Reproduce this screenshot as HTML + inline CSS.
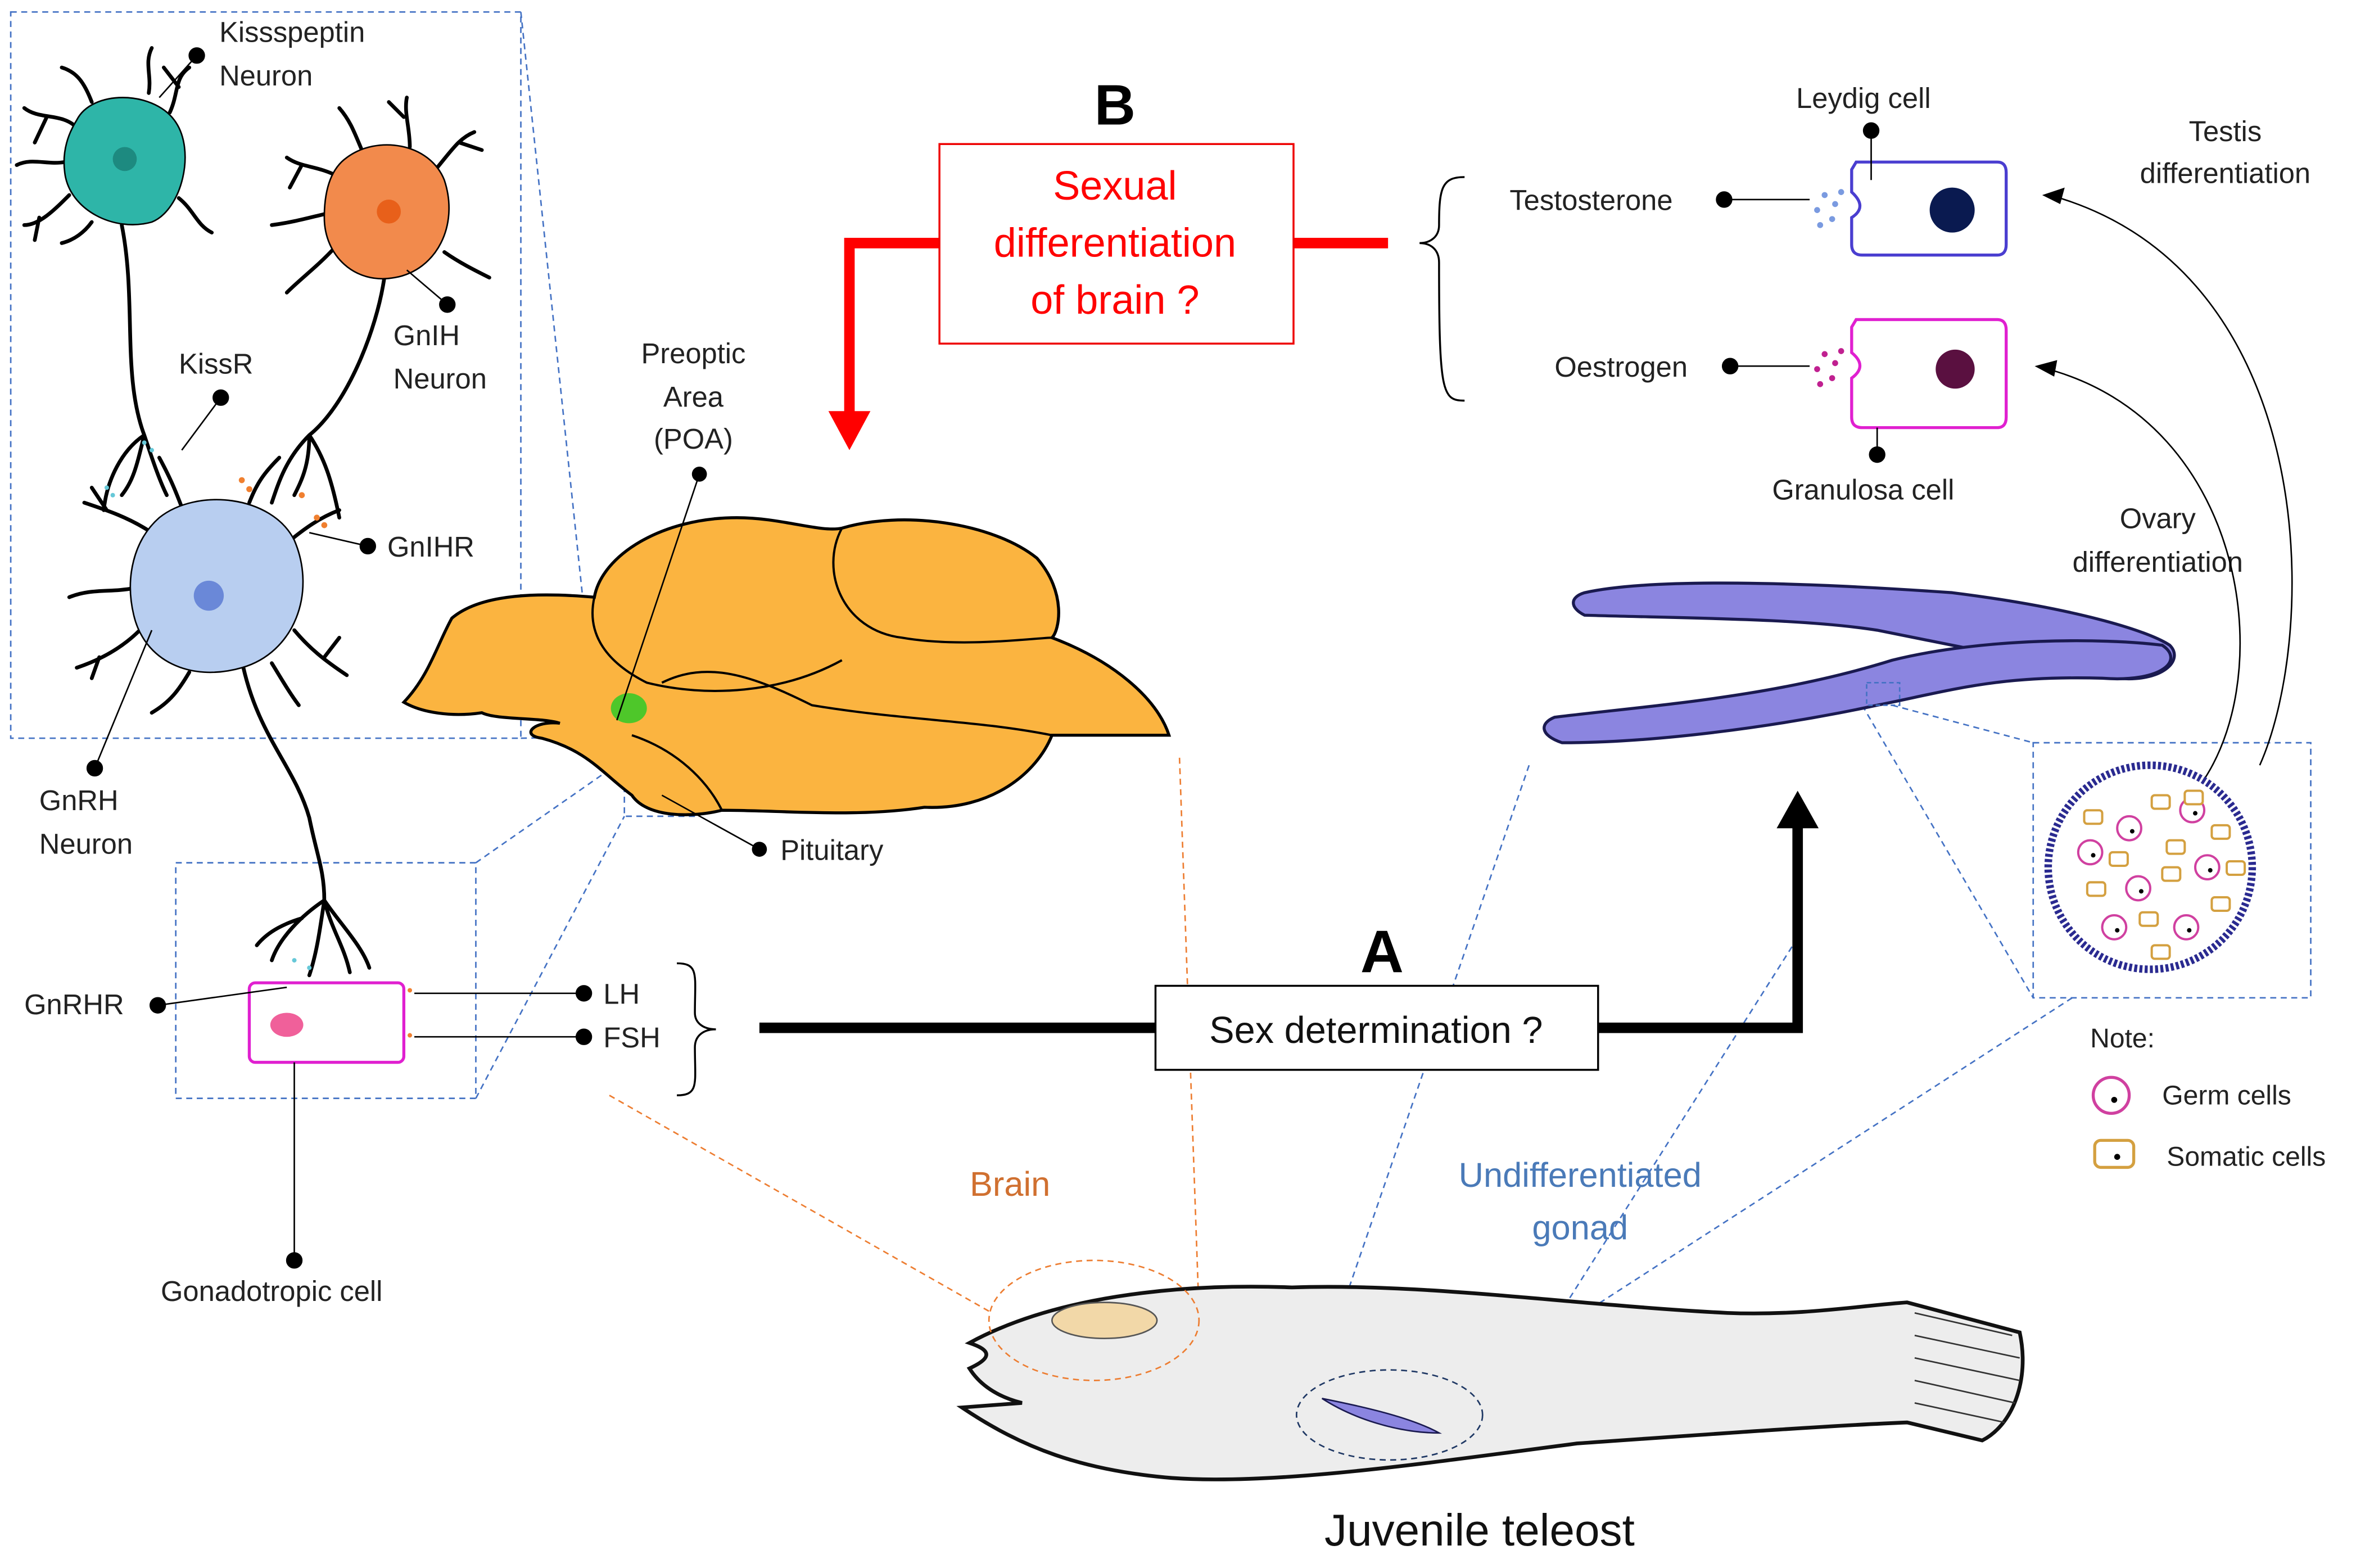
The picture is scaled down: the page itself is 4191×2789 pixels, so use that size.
<!DOCTYPE html>
<html><head><meta charset="utf-8"><style>
html,body{margin:0;padding:0;background:#fff;}
svg{display:block;}
text{font-family:"Liberation Sans",sans-serif;}
</style></head><body>
<svg width="4191" height="2789" viewBox="0 0 1568 1045" xmlns="http://www.w3.org/2000/svg">
<rect width="1568" height="1045" fill="#fff"/>
<g fill="none" stroke="#4472c4" stroke-width="1" stroke-dasharray="4,3">
<rect x="6" y="8" width="340" height="484"/>
<rect x="116" y="575" width="200" height="157"/>
<rect x="1354" y="495" width="185" height="170"/>
<rect x="393" y="453" width="52" height="38"/>
<rect x="415" y="506" width="50" height="38"/>
<line x1="346" y1="8" x2="393" y2="453"/>
<line x1="346" y1="492" x2="393" y2="491"/>
<line x1="316" y1="575" x2="415" y2="506"/>
<line x1="316" y1="732" x2="415" y2="544"/>
<line x1="1018" y1="510" x2="875" y2="925"/>
<line x1="1197" y1="625" x2="985" y2="960"/>
<line x1="1260" y1="470" x2="1354" y2="495"/>
<line x1="1240" y1="470" x2="1354" y2="665"/>
<line x1="1380" y1="665" x2="985" y2="920"/>
</g>
<g fill="none" stroke="#ed7d31" stroke-width="1" stroke-dasharray="4,3">
<line x1="405" y1="730" x2="660" y2="875"/>
<line x1="785" y1="505" x2="798" y2="875"/>
</g>
<!-- brain -->
<path d="M268,468 C285,450 290,430 300,412 C320,395 360,395 395,398 C400,370 440,345 490,345 C520,345 545,355 560,352 C600,340 660,348 690,372 C710,395 705,420 700,425 C740,440 770,465 778,490 L700,490 C690,515 660,540 615,538 C570,545 520,540 480,540 C460,545 430,545 420,530 C400,515 390,500 360,492 C345,490 355,480 372,482 C360,478 330,480 320,475 C300,478 280,475 268,468 Z" fill="#fbb440" stroke="#000" stroke-width="2"/>
<g fill="none" stroke="#000" stroke-width="1.5">
<path d="M395,398 C390,420 400,440 430,455 C470,465 520,462 560,440"/>
<path d="M560,352 C545,380 560,420 600,425 C640,432 690,425 700,425"/>
<path d="M440,455 C470,440 500,450 540,470 C600,480 650,480 700,490"/>
<path d="M420,490 C450,500 470,520 480,540"/>
</g>
<ellipse cx="418" cy="472" rx="12" ry="10" fill="#4ec72a"/>
<line x1="410" y1="480" x2="465" y2="316" stroke="#000" stroke-width="1"/><circle cx="465" cy="316" r="5" fill="#000"/>
<line x1="440" y1="530" x2="505" y2="566" stroke="#000" stroke-width="1"/><circle cx="505" cy="566" r="5" fill="#000"/>
<!-- neurons -->
<g stroke="#000" fill="none" stroke-width="2.5" stroke-linecap="round">
<path d="M80,150 C90,200 80,250 95,290 M95,290 C80,300 70,320 68,340 M95,290 C100,305 105,320 110,330 M95,290 C90,310 88,320 80,330"/>
<path d="M255,185 C250,220 230,270 205,290 M205,290 C190,305 185,320 180,335 M205,290 C215,305 220,320 225,345 M205,290 C205,310 200,320 195,330"/>
<path d="M160,440 C170,490 195,510 205,545 C210,570 215,580 215,600 M215,600 C200,610 185,625 180,640 M215,600 C225,615 240,630 245,645 M215,600 C212,620 210,635 205,650 M215,600 C220,620 228,630 232,648 M200,612 C190,615 178,620 170,630"/>
<!-- teal dendrites -->
<path d="M50,85 C40,75 25,80 15,72 M30,78 L22,95 M45,130 C35,140 25,150 15,150 M25,145 L22,160 M112,75 C118,62 115,52 125,45 M118,58 L108,45 M118,132 C128,140 130,150 140,155 M60,68 C55,55 50,48 40,45 M98,62 C100,50 95,42 100,32 M42,108 C30,110 20,105 10,110 M60,148 C55,155 48,160 40,162"/>
<!-- orange dendrites -->
<path d="M225,118 C210,110 200,112 190,105 M200,110 L192,125 M222,165 C210,178 200,185 190,195 M290,112 C300,100 305,92 315,88 M305,95 L320,100 M295,168 C305,175 315,180 325,185 M240,100 C235,88 232,80 225,72 M272,98 C272,85 268,75 270,65 M268,78 L258,68 M218,142 C205,145 195,148 180,150"/>
<!-- blue dendrites -->
<path d="M100,355 C85,345 70,340 55,335 M70,340 L60,325 M92,420 C80,432 65,440 50,445 M65,438 L60,452 M190,362 C202,352 212,345 225,340 M195,420 C205,432 215,440 230,450 M215,438 L225,425 M120,338 C115,325 112,318 105,305 M165,335 C170,322 175,315 185,305 M88,392 C72,395 60,392 45,398 M125,448 C118,460 112,468 100,475 M180,442 C188,455 192,462 198,470"/>
</g>
<path d="M50,80 C60,60 100,60 115,80 C130,100 120,140 100,148 C75,155 45,140 42,115 C40,100 45,88 50,80 Z" fill="#2eb5a8" stroke="#000" stroke-width="1"/>
<circle cx="82" cy="106" r="8" fill="#1d8a80"/>
<path d="M230,105 C250,90 285,95 295,120 C305,150 290,180 262,185 C235,190 215,170 215,145 C215,125 220,112 230,105 Z" fill="#f28a4c" stroke="#000" stroke-width="1"/>
<circle cx="258" cy="141" r="8" fill="#e8601a"/>
<path d="M105,345 C130,325 180,330 195,360 C210,395 195,435 160,445 C125,455 95,440 88,410 C82,385 88,360 105,345 Z" fill="#b8cef0" stroke="#000" stroke-width="1"/>
<circle cx="138" cy="397" r="10" fill="#6a88d8"/>
<!-- synapse dots -->
<g fill="#66c8d8"><circle cx="95" cy="295" r="1.5"/><circle cx="100" cy="300" r="1.5"/><circle cx="70" cy="325" r="1.5"/><circle cx="74" cy="330" r="1.5"/><circle cx="195" cy="640" r="1.5"/><circle cx="205" cy="645" r="1.5"/></g>
<g fill="#f08030"><circle cx="160" cy="320" r="2"/><circle cx="165" cy="326" r="2"/><circle cx="200" cy="330" r="2"/><circle cx="210" cy="345" r="2"/><circle cx="215" cy="350" r="2"/><circle cx="272" cy="660" r="1.5"/><circle cx="272" cy="690" r="1.5"/></g>
<!-- gonadotropic cell -->
<rect x="165" y="655" width="103" height="53" rx="4" fill="#fff" stroke="#e020d0" stroke-width="2"/>
<ellipse cx="190" cy="683" rx="11" ry="8" fill="#f0609a"/>
<g stroke="#000" stroke-width="1">
<line x1="104" y1="670" x2="190" y2="658"/><circle cx="104" cy="670" r="5"/>
<line x1="275" y1="662" x2="388" y2="662"/><circle cx="388" cy="662" r="5"/>
<line x1="275" y1="691" x2="388" y2="691"/><circle cx="388" cy="691" r="5"/>
<line x1="195" y1="708" x2="195" y2="840"/><circle cx="195" cy="840" r="5"/>
<line x1="105" y1="65" x2="130" y2="37"/><circle cx="130" cy="37" r="5"/>
<line x1="270" y1="180" x2="297" y2="203"/><circle cx="297" cy="203" r="5"/>
<line x1="120" y1="300" x2="146" y2="265"/><circle cx="146" cy="265" r="5"/>
<line x1="205" y1="355" x2="244" y2="364"/><circle cx="244" cy="364" r="5"/>
<line x1="100" y1="420" x2="62" y2="512"/><circle cx="62" cy="512" r="5"/>
</g>
<g font-size="19" fill="#222">
<text x="145" y="28">Kissspeptin</text><text x="145" y="57">Neuron</text>
<text x="261" y="230">GnIH</text><text x="261" y="259">Neuron</text>
<text x="118" y="249">KissR</text>
<text x="257" y="371">GnIHR</text>
<text x="25" y="540">GnRH</text><text x="25" y="569">Neuron</text>
<text x="15" y="676">GnRHR</text>
<text x="401" y="669">LH</text><text x="401" y="698">FSH</text>
<text x="106" y="867">Gonadotropic  cell</text>
<text x="461" y="242" text-anchor="middle">Preoptic</text><text x="461" y="271" text-anchor="middle">Area</text><text x="461" y="299" text-anchor="middle">(POA)</text>
<text x="519" y="573">Pituitary</text>
</g>
<path d="M450,642 C465,642 462,650 462,675 C462,682 468,686 476,686 C468,686 462,690 462,698 C462,722 465,730 450,730" fill="none" stroke="#000" stroke-width="1.3"/>
<!-- A path -->
<path d="M505,685 L1197,685 L1197,548" fill="none" stroke="#000" stroke-width="7"/>
<polygon points="1183,552 1211,552 1197,527" fill="#000"/>
<rect x="769" y="657" width="295" height="56" fill="#fff" stroke="#000" stroke-width="1.3"/>
<text x="916" y="695" font-size="25" text-anchor="middle" fill="#111">Sex determination  ?</text>
<text x="920" y="648" font-size="40" font-weight="bold" text-anchor="middle">A</text>
<!-- B path -->
<path d="M625,162 L565,162 L565,280 M861,162 L924,162" fill="none" stroke="#f00" stroke-width="7"/>
<polygon points="551,274 579,274 565,300" fill="#f00"/>
<rect x="625" y="96" width="236" height="133" fill="#fff" stroke="#e00" stroke-width="1.3"/>
<g font-size="27" fill="#f00" text-anchor="middle"><text x="742" y="133">Sexual</text><text x="742" y="171">differentiation</text><text x="742" y="209">of brain ?</text></g>
<text x="742" y="83" font-size="38" font-weight="bold" text-anchor="middle">B</text>
<!-- right cells -->
<path d="M975,118 C960,118 958,125 958,150 C958,158 952,162 945,162 C952,162 958,166 958,175 C958,262 960,267 975,267" fill="none" stroke="#000" stroke-width="1.3"/>
<path d="M1236,108 L1330,108 Q1336,108 1336,115 L1336,163 Q1336,170 1330,170 L1240,170 Q1233,170 1233,163 L1233,145 Q1244,138 1233,128 L1233,113 Z" fill="#fff" stroke="#4a3ed0" stroke-width="2"/>
<circle cx="1300" cy="140" r="15" fill="#0a1a50"/>
<path d="M1236,213 L1330,213 Q1336,213 1336,220 L1336,278 Q1336,285 1330,285 L1240,285 Q1233,285 1233,278 L1233,252 Q1244,244 1233,235 L1233,218 Z" fill="#fff" stroke="#e020d0" stroke-width="2"/>
<circle cx="1302" cy="246" r="13" fill="#5a1040"/>
<g fill="#7a9ae0"><circle cx="1215" cy="130" r="2"/><circle cx="1222" cy="136" r="2"/><circle cx="1210" cy="140" r="2"/><circle cx="1220" cy="146" r="2"/><circle cx="1226" cy="128" r="2"/><circle cx="1212" cy="150" r="2"/></g>
<g fill="#c02090"><circle cx="1215" cy="236" r="2"/><circle cx="1222" cy="242" r="2"/><circle cx="1210" cy="246" r="2"/><circle cx="1220" cy="252" r="2"/><circle cx="1226" cy="234" r="2"/><circle cx="1212" cy="256" r="2"/></g>
<g stroke="#000" stroke-width="1">
<line x1="1148" y1="133" x2="1205" y2="133"/><circle cx="1148" cy="133" r="5"/>
<line x1="1152" y1="244" x2="1205" y2="244"/><circle cx="1152" cy="244" r="5"/>
<line x1="1246" y1="87" x2="1246" y2="120"/><circle cx="1246" cy="87" r="5"/>
<line x1="1250" y1="285" x2="1250" y2="303"/><circle cx="1250" cy="303" r="5"/>
</g>
<g font-size="19" fill="#222">
<text x="1005" y="140">Testosterone</text><text x="1035" y="251">Oestrogen</text>
<text x="1196" y="72">Leydig cell</text><text x="1180" y="333">Granulosa cell</text>
<text x="1482" y="94" text-anchor="middle">Testis</text><text x="1482" y="122" text-anchor="middle">differentiation</text>
<text x="1437" y="352" text-anchor="middle">Ovary</text><text x="1437" y="381" text-anchor="middle">differentiation</text>
</g>
<g fill="none" stroke="#000" stroke-width="1">
<path d="M1505,510 C1545,420 1545,180 1365,130"/>
<path d="M1460,530 C1520,460 1500,280 1360,245"/>
</g>
<polygon points="1360,130 1375,125 1372,136" fill="#000"/>
<polygon points="1355,244 1370,240 1368,251" fill="#000"/>
<!-- gonads -->
<path d="M1055,395 C1100,385 1200,388 1300,395 C1380,405 1430,420 1445,430 C1455,440 1440,455 1410,452 C1350,440 1300,430 1250,420 C1200,412 1120,412 1055,410 C1045,405 1045,398 1055,395 Z" fill="#8b85e0" stroke="#1a1a50" stroke-width="2"/>
<path d="M1035,478 C1100,470 1180,465 1260,440 C1320,425 1400,425 1440,430 C1455,440 1440,455 1400,452 C1330,450 1300,460 1250,470 C1180,485 1100,495 1040,495 C1025,490 1025,482 1035,478 Z" fill="#8b85e0" stroke="#1a1a50" stroke-width="2"/>
<rect x="1243" y="455" width="22" height="15" fill="none" stroke="#4472c4" stroke-dasharray="3,2"/>
<!-- cross-section -->
<circle cx="1432" cy="578" r="68" fill="#fff" stroke="#2a2a90" stroke-width="5" stroke-dasharray="2,1.5"/>
<g fill="#fff" stroke="#d040a0" stroke-width="1.5">
<circle cx="1392" cy="568" r="8"/><circle cx="1418" cy="552" r="8"/><circle cx="1460" cy="540" r="8"/><circle cx="1470" cy="578" r="8"/><circle cx="1424" cy="592" r="8"/><circle cx="1408" cy="618" r="8"/><circle cx="1456" cy="618" r="8"/>
</g>
<g fill="#000"><circle cx="1394" cy="570" r="1.5"/><circle cx="1420" cy="554" r="1.5"/><circle cx="1462" cy="542" r="1.5"/><circle cx="1472" cy="580" r="1.5"/><circle cx="1426" cy="594" r="1.5"/><circle cx="1410" cy="620" r="1.5"/><circle cx="1458" cy="620" r="1.5"/></g>
<g fill="#fff" stroke="#d4a040" stroke-width="1.5">
<rect x="1388" y="540" width="12" height="9" rx="2"/><rect x="1433" y="530" width="12" height="9" rx="2"/><rect x="1473" y="550" width="12" height="9" rx="2"/><rect x="1443" y="560" width="12" height="9" rx="2"/><rect x="1440" y="578" width="12" height="9" rx="2"/><rect x="1390" y="588" width="12" height="9" rx="2"/><rect x="1483" y="574" width="12" height="9" rx="2"/><rect x="1473" y="598" width="12" height="9" rx="2"/><rect x="1425" y="608" width="12" height="9" rx="2"/><rect x="1433" y="630" width="12" height="9" rx="2"/><rect x="1405" y="568" width="12" height="9" rx="2"/><rect x="1455" y="527" width="12" height="9" rx="2"/>
</g>
<!-- note -->
<text x="1392" y="698" font-size="18" fill="#222">Note:</text>
<circle cx="1406" cy="730" r="12" fill="#fff" stroke="#d040a0" stroke-width="2"/><circle cx="1408" cy="733" r="2"/>
<rect x="1395" y="760" width="26" height="18" rx="4" fill="#fff" stroke="#d4a040" stroke-width="2"/><circle cx="1410" cy="771" r="2"/>
<text x="1440" y="736" font-size="18" fill="#222">Germ cells</text>
<text x="1443" y="777" font-size="18" fill="#222">Somatic cells</text>
<!-- fish -->
<path d="M645,895 C700,865 780,855 860,858 C950,855 1050,870 1150,875 C1200,877 1240,870 1270,868 L1345,888 C1352,920 1340,950 1320,960 L1270,948 C1220,950 1150,955 1050,962 C950,975 850,990 780,985 C720,980 680,965 640,938 L680,935 C660,930 650,920 645,912 C660,905 660,900 645,895 Z" fill="#ededed" stroke="#111" stroke-width="2.5"/>
<g stroke="#333" stroke-width="1" fill="none"><path d="M1275,875 L1340,890 M1275,890 L1345,905 M1275,905 L1345,920 M1275,920 L1342,935 M1275,935 L1335,948"/></g>
<ellipse cx="735" cy="880" rx="35" ry="12" fill="#f2d8a8" stroke="#555"/>
<path d="M880,932 C910,938 940,945 958,955 C930,955 900,945 880,932 Z" fill="#8b85e0" stroke="#1a1a50"/>
<ellipse cx="728" cy="880" rx="70" ry="40" fill="none" stroke="#ed7d31" stroke-dasharray="4,3"/>
<ellipse cx="925" cy="943" rx="62" ry="30" fill="none" stroke="#1f3864" stroke-dasharray="4,3"/>
<text x="672" y="797" font-size="23" fill="#d07030" text-anchor="middle">Brain</text>
<text x="1052" y="791" font-size="23" fill="#4a7ab8" text-anchor="middle">Undifferentiated</text>
<text x="1052" y="826" font-size="23" fill="#4a7ab8" text-anchor="middle">gonad</text>
<text x="985" y="1030" font-size="30" fill="#111" text-anchor="middle">Juvenile teleost</text>
</svg>
</body></html>
